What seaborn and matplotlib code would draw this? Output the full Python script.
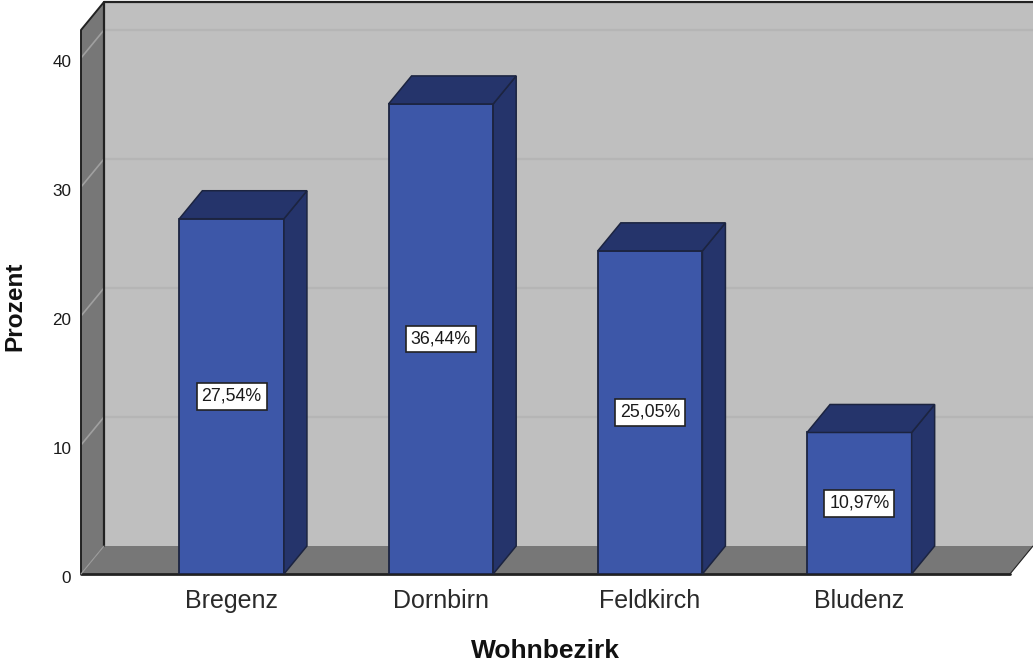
import matplotlib
matplotlib.use("Agg")
import matplotlib.pyplot as plt
from matplotlib.patches import Polygon
from matplotlib.transforms import ScaledTranslation
import seaborn as sns

districts = ["Bregenz", "Dornbirn", "Feldkirch", "Bludenz"]
percent = [27.54, 36.44, 25.05, 10.97]
percent_labels = ["27,54%", "36,44%", "25,05%", "10,97%"]
y_ticks = [0, 10, 20, 30, 40]

W, H = 1033, 663
front = "#3d57a8"
dark = "#25346b"
wall = "#bfbfbf"
side = "#777777"

sns.set_theme(style="white")
plt.rcParams["font.family"] = ["Liberation Sans", "DejaVu Sans"]

fig = plt.figure(figsize=(W / 100, H / 100), dpi=100)
ax = fig.add_axes([81 / W, 1 - 574 / H, 929 / W, 544 / H])
ax.patch.set_alpha(0)

sns.barplot(x=districts, y=percent, color=front, saturation=1, width=0.5,
            edgecolor="#1c2440", linewidth=1.3, ax=ax, zorder=4)
ax.set_xlim(-0.72, 3.72)
ax.set_ylim(0, 42.17)

# depth of the fake 3D box, in data units
dx = 23 / 209.3
dy = 28 / 12.9
x0, x1 = ax.get_xlim()
y0, y1 = ax.get_ylim()


def poly(points, color, edge="none", lw=0, z=1):
    ax.add_patch(Polygon(points, closed=True, facecolor=color, edgecolor=edge,
                         linewidth=lw, zorder=z, clip_on=False))


# back wall, side wall, floor
poly([(x0 + dx, y0 + dy), (x1 + dx, y0 + dy), (x1 + dx, y1 + dy), (x0 + dx, y1 + dy)], wall)
poly([(x0, y0), (x0 + dx, y0 + dy), (x0 + dx, y1 + dy), (x0, y1)], side)
poly([(x0, y0), (x1, y0), (x1 + dx, y0 + dy), (x0 + dx, y0 + dy)], side)

for v in y_ticks[1:]:
    ax.plot([x0 + dx, x1 + dx], [v + dy, v + dy], color="#b5b5b5", lw=1.6, zorder=2, clip_on=False)
    ax.plot([x0, x0 + dx], [v, v + dy], color="#a0a0a0", lw=1.2, zorder=2, clip_on=False)

edge = "#222222"
ax.plot([x0 + dx, x0 + dx, x1 + dx], [y0 + dy, y1 + dy, y1 + dy], color=edge, lw=1.6, zorder=3, clip_on=False)
ax.plot([x0, x0, x0 + dx], [y0, y1, y1 + dy], color=edge, lw=1.4, zorder=3, clip_on=False)
ax.plot([x0, x1], [y0, y0], color=edge, lw=2, zorder=3, clip_on=False)
ax.plot([x1, x1 + dx], [y0, y0 + dy], color=edge, lw=0.8, zorder=3, clip_on=False)
ax.plot([x0, x0 + dx], [y0, y0 + dy], color="#999999", lw=0.8, zorder=3, clip_on=False)

# side and top face of every bar
for bar, label in zip(ax.patches[:len(percent)], percent_labels):
    l, r = bar.get_x(), bar.get_x() + bar.get_width()
    h = bar.get_height()
    poly([(r, 0), (r + dx, dy), (r + dx, h + dy), (r, h)], dark, "#1c2440", 1.1, 4)
    poly([(l, h), (r, h), (r + dx, h + dy), (l + dx, h + dy)], dark, "#1c2440", 1.1, 4)
    ax.text((l + r) / 2, h / 2, label, ha="center", va="center", fontsize=12.8,
            color="#1a1a1a", zorder=6,
            bbox=dict(boxstyle="square,pad=0.27", facecolor="white", edgecolor="#222222", linewidth=1.2))

sns.despine(ax=ax, left=True, bottom=True)
ax.set_yticks(y_ticks)
ax.tick_params(axis="y", length=0, pad=7, labelsize=12.3, labelcolor="#1a1a1a")
ax.tick_params(axis="x", length=0, pad=11, labelsize=18, labelcolor="#2a2a2a")
for t in ax.get_yticklabels():
    t.set_transform(t.get_transform() + ScaledTranslation(0, -2 / 72, fig.dpi_scale_trans))

ax.set_xlabel("Wohnbezirk", fontsize=19, fontweight="bold", color="#111111")
ax.set_ylabel("Prozent", fontsize=17.6, fontweight="bold", color="#111111")
ax.xaxis.set_label_coords((545 - 81) / 929, -(651 - 574) / 544)
ax.xaxis.label.set_va("center")
ax.yaxis.set_label_coords((15 - 81) / 929, (574 - 306) / 544)
ax.yaxis.label.set_va("center")

fig.savefig("out.png", dpi=100)
